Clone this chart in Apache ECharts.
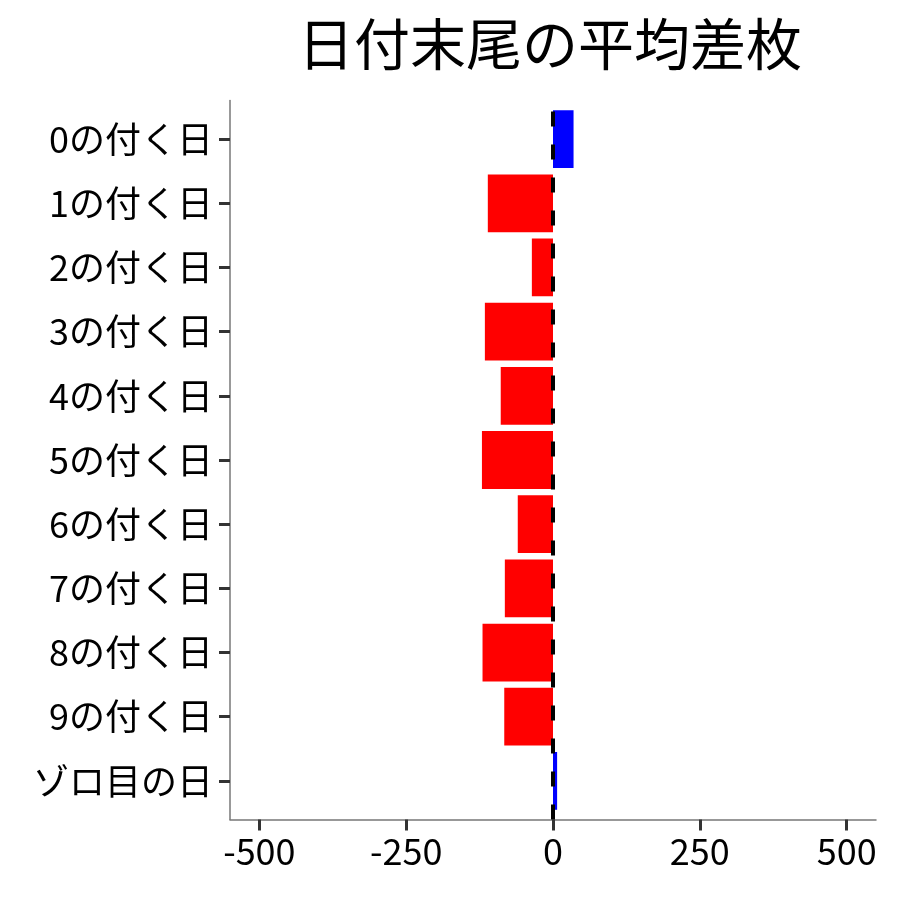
<!DOCTYPE html>
<html><head><meta charset="utf-8">
<script src="https://cdn.jsdelivr.net/npm/echarts@6/dist/echarts.min.js"></script>
<style>html,body{margin:0;padding:0;background:#fff}#c{width:900px;height:900px}</style>
</head><body><div id="c"></div>
<script>
const titleText = '日付末尾の平均差枚';
const categories = ['0の付く日','1の付く日','2の付く日','3の付く日','4の付く日','5の付く日','6の付く日','7の付く日','8の付く日','9の付く日','ゾロ目の日'];
const values = [35, -111, -36, -116, -89, -121, -60, -82, -120, -83, 7];
const xTicks = [-500, -250, 0, 250, 500];
const xMin = -550, xMax = 550;

const FONT = '"Noto Sans CJK JP", "Noto Sans", sans-serif';
const chart = echarts.init(document.getElementById('c'), null, {renderer: 'canvas'});
chart.setOption({
  animation: false,
  backgroundColor: '#fff',
  title: {
    text: titleText, left: 545, top: 11, textAlign: 'center',
    textStyle: {fontFamily: FONT, fontSize: 56, fontWeight: 'normal', color: '#000'}
  },
  grid: [
    {left: 230, right: 24, top: 107, bottom: 87},
    {left: 230, right: 24, top: 100.5, bottom: 80.5}
  ],
  xAxis: [
    {gridIndex: 0, type: 'value', min: xMin, max: xMax, show: false},
    {gridIndex: 1, type: 'value', min: xMin, max: xMax,
     axisLine: {show: true, onZero: false, lineStyle: {color: '#777', width: 1.5}},
     axisTick: {show: true, length: 11, lineStyle: {color: '#333', width: 3}, customValues: xTicks},
     axisLabel: {margin: 14, fontFamily: FONT, fontSize: 36, color: '#000', customValues: xTicks},
     splitLine: {show: false}}
  ],
  yAxis: [
    {gridIndex: 0, type: 'category', data: categories, inverse: true,
     axisLine: {show: false, onZero: false},
     axisTick: {show: true, length: 11, alignWithLabel: true, lineStyle: {color: '#333', width: 3}},
     axisLabel: {margin: 17, fontFamily: FONT, fontSize: 36, color: '#000'}},
    {gridIndex: 1, type: 'value', min: 0, max: 1,
     axisLine: {show: true, onZero: false, lineStyle: {color: '#777', width: 1.5}},
     axisTick: {show: false}, axisLabel: {show: false}, splitLine: {show: false}}
  ],
  series: [
    {type: 'bar', xAxisIndex: 0, yAxisIndex: 0, barCategoryGap: '10%',
     data: values.map(v => ({value: v, itemStyle: {color: v >= 0 ? '#0000ff' : '#ff0000'}}))},
    {type: 'line', xAxisIndex: 1, yAxisIndex: 1, data: [], symbol: 'none',
     markLine: {silent: true, symbol: 'none', label: {show: false},
       lineStyle: {color: '#000', width: 4, type: [15, 18]},
       data: [{xAxis: 0}]}}
  ]
});
</script></body></html>
